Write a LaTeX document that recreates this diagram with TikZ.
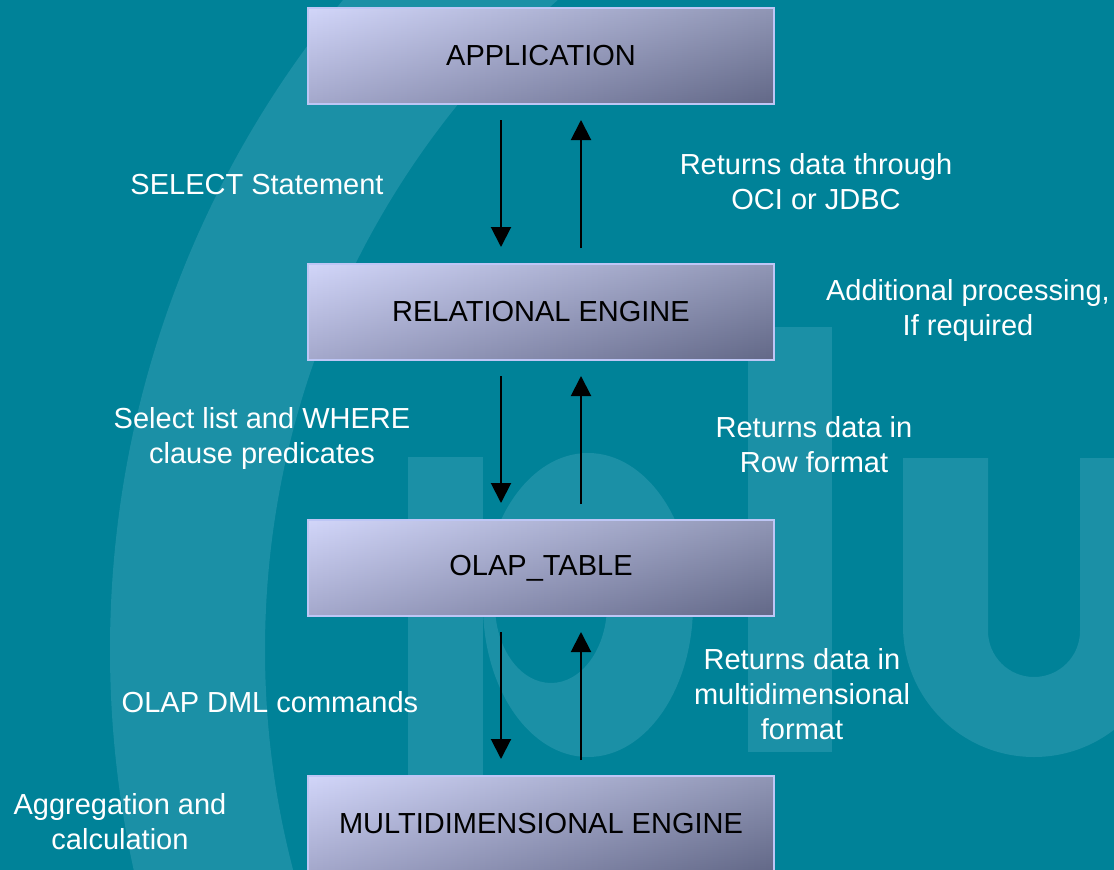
\documentclass[tikz,border=0pt]{standalone}
\usepackage{fontspec}
\setmainfont{Liberation Sans}
\usetikzlibrary{arrows.meta}
\definecolor{bg}{RGB}{0,130,152}
\definecolor{wm}{RGB}{27,144,166}
\definecolor{boxL}{RGB}{200,205,248}
\definecolor{boxR}{RGB}{120,127,165}
\definecolor{boxedge}{RGB}{190,198,245}
\begin{document}
\begin{tikzpicture}[x=1pt,y=-1pt,
  box/.style={draw=boxedge, line width=2pt, minimum width=466pt, minimum height=96pt,
    inner sep=0pt, outer sep=0pt, font=\fontsize{29}{35}\selectfont, text=black,
    path picture={
      \shade[left color=boxL, right color=boxR] (path picture bounding box.south west) rectangle (path picture bounding box.north east);
      \shade[top color=white, bottom color=black, fill opacity=0.18] (path picture bounding box.south west) rectangle (path picture bounding box.north east);
    }},
  lbl/.style={text=white, align=center, inner sep=0pt, font=\fontsize{29}{35}\selectfont},
  arr/.style={line width=2pt, -{Triangle[width=20pt,length=20pt]}}]
\begin{scope}
\clip (0,0) rectangle (1114,870);
\fill[bg] (0,0) rectangle (1114,870);
\fill[wm, even odd rule] (1133,650) circle[radius=1023] (1133,650) circle[radius=868];
\fill[wm] (408,457) rectangle (483,870);
\fill[wm, even odd rule] (588,605) ellipse[x radius=105, y radius=152] (551,605) ellipse[x radius=56, y radius=78];
\fill[wm] (748,327) rectangle (832,752);
\fill[wm] (903,458) -- (903,626) arc[start angle=180, end angle=0, radius=131] -- (1165,458) -- (1080,458) -- (1080,631) arc[start angle=0, end angle=180, radius=46] -- (988,458) -- cycle;
\end{scope}
\useasboundingbox (0,0) rectangle (1114,870);

\node[box] (app) at (541,56) {APPLICATION};
\node[box] (rel) at (541,312) {RELATIONAL ENGINE};
\node[box] (olap) at (541,568) {OLAP\_TABLE};
\node[box] (mde) at (541,824) {MULTIDIMENSIONAL ENGINE};

\draw[arr] ([xshift=-40pt,yshift=-16pt]app.south) -- ([xshift=-40pt,yshift=17pt]rel.north);
\draw[arr] ([xshift=40pt,yshift=16pt]rel.north) -- ([xshift=40pt,yshift=-16pt]app.south);
\draw[arr] ([xshift=-40pt,yshift=-16pt]rel.south) -- ([xshift=-40pt,yshift=17pt]olap.north);
\draw[arr] ([xshift=40pt,yshift=16pt]olap.north) -- ([xshift=40pt,yshift=-16pt]rel.south);
\draw[arr] ([xshift=-40pt,yshift=-16pt]olap.south) -- ([xshift=-40pt,yshift=17pt]mde.north);
\draw[arr] ([xshift=40pt,yshift=16pt]mde.north) -- ([xshift=40pt,yshift=-16pt]olap.south);

\node[lbl] (l1) at (257,185) {SELECT Statement};
\node[lbl] (l2) at (816,182) {Returns data through\\OCI or JDBC};
\node[lbl] (l3) at (968,310) {Additional processing,\\If required};
\node[lbl] (l4) at (262,438) {Select list and WHERE\\clause predicates};
\node[lbl] (l5) at (814,445) {Returns data in\\Row format};
\node[lbl] (l6) at (270,702) {OLAP DML commands};
\node[lbl] (l7) at (802,694) {Returns data in\\multidimensional\\format};
\node[lbl] (l8) at (120,822) {Aggregation and\\calculation};
\end{tikzpicture}
\end{document}
